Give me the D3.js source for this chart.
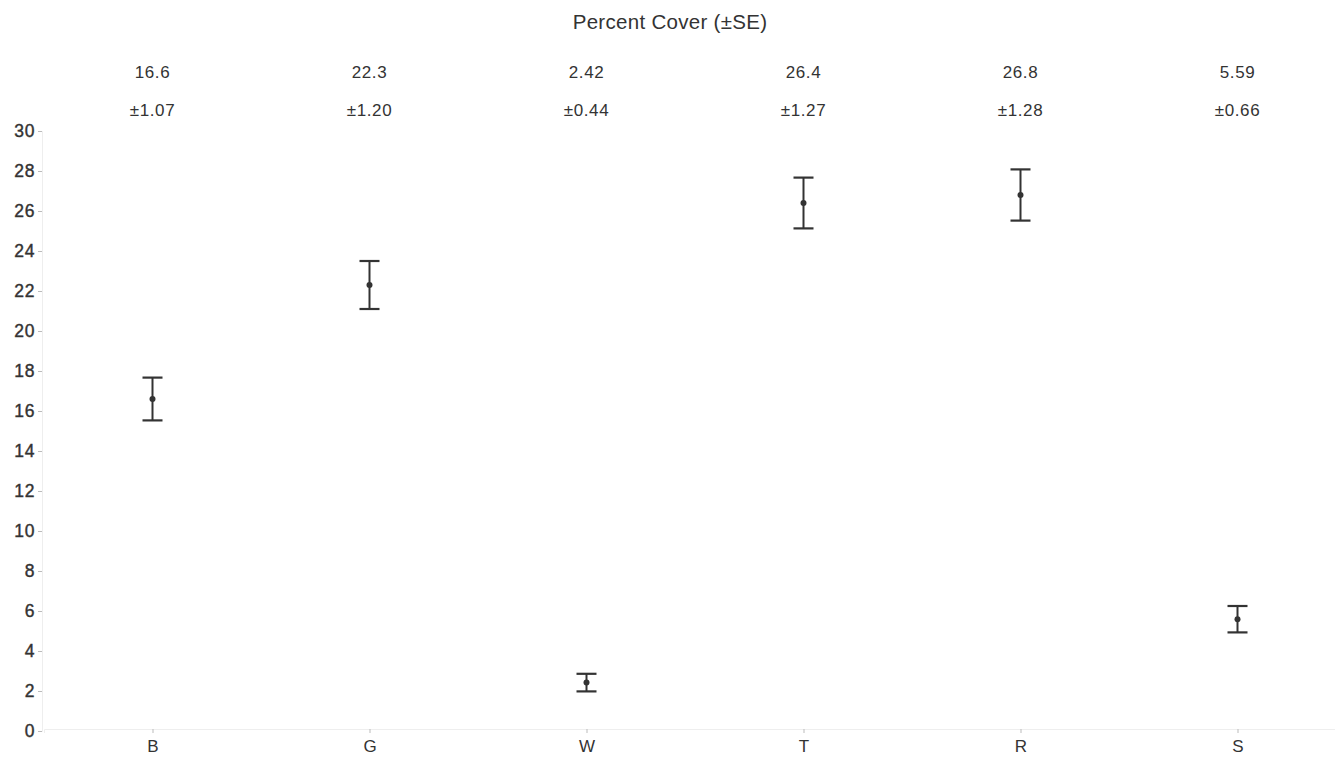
<!DOCTYPE html>
<html><head><meta charset="utf-8">
<script src="https://cdn.jsdelivr.net/npm/d3@7"></script>
<style>body{margin:0;background:#fff;}svg{display:block;font-family:"Liberation Sans",Arial,sans-serif;}</style>
</head><body>
<script>
const categories = ["B","G","W","T","R","S"];
const means = [16.6, 22.3, 2.42, 26.4, 26.8, 5.59];
const ses = [1.07, 1.20, 0.44, 1.27, 1.28, 0.66];
const meanLabels = ["16.6","22.3","2.42","26.4","26.8","5.59"];
const seLabels = ["±1.07","±1.20","±0.44","±1.27","±1.28","±0.66"];
const yTicks = [0,2,4,6,8,10,12,14,16,18,20,22,24,26,28,30];

const W = 1335, H = 759;
const svg = d3.select("body").append("svg").attr("width", W).attr("height", H);

const x = d3.scalePoint().domain(categories).range([44, 1346]).padding(0.5);
const y = d3.scaleLinear().domain([0, 30]).range([731, 131]);
const FF = "'Liberation Sans', Arial, sans-serif";

// title
svg.append("text").attr("x", 670).attr("y", 29).attr("text-anchor", "middle")
  .attr("font-size", 20.5).attr("fill", "#333").attr("letter-spacing", 0.3)
  .text("Percent Cover (±SE)");

// top labels
svg.selectAll(".ml").data(categories).join("text").attr("class","ml")
  .attr("x", d => x(d)).attr("y", 78).attr("text-anchor","middle")
  .attr("font-size", 17).attr("fill", "#333").attr("letter-spacing", 0.6)
  .text((d,i) => meanLabels[i]);
svg.selectAll(".sl").data(categories).join("text").attr("class","sl")
  .attr("x", d => x(d)).attr("y", 116).attr("text-anchor","middle")
  .attr("font-size", 17).attr("fill", "#333").attr("letter-spacing", 0.6)
  .text((d,i) => seLabels[i]);

// y axis
const yAxis = svg.append("g").attr("transform", "translate(42,0)")
  .call(d3.axisLeft(y).tickValues(yTicks).tickSize(4).tickPadding(3));
yAxis.select(".domain").attr("stroke", "#eee");
yAxis.selectAll(".tick line").attr("stroke", "#bbb");
yAxis.selectAll(".tick text").attr("font-size", 17.5).attr("fill", "#333")
  .attr("stroke", "#333").attr("stroke-width", 0.4).attr("letter-spacing", 0.6)
  .attr("font-family", FF);

// x axis
const xAxis = svg.append("g").attr("transform", "translate(0,729)")
  .call(d3.axisBottom(x).tickSize(4).tickPadding(7));
xAxis.select(".domain").attr("stroke", "#eee");
xAxis.selectAll(".tick line").attr("stroke", "#bbb");
xAxis.selectAll(".tick text").attr("font-size", 17).attr("fill", "#333")
  .attr("font-family", FF);

// error bars
const g = svg.append("g");
const cap = 10;
categories.forEach((c, i) => {
  const cx = x(c), lo = y(means[i] - ses[i]), hi = y(means[i] + ses[i]);
  g.append("line").attr("x1", cx).attr("x2", cx).attr("y1", lo).attr("y2", hi)
    .attr("stroke", "#333").attr("stroke-width", 2);
  g.append("line").attr("x1", cx - cap).attr("x2", cx + cap).attr("y1", lo).attr("y2", lo)
    .attr("stroke", "#333").attr("stroke-width", 2.2);
  g.append("line").attr("x1", cx - cap).attr("x2", cx + cap).attr("y1", hi).attr("y2", hi)
    .attr("stroke", "#333").attr("stroke-width", 2.2);
  g.append("circle").attr("cx", cx).attr("cy", y(means[i])).attr("r", 3).attr("fill", "#333");
});
</script>
</body></html>
